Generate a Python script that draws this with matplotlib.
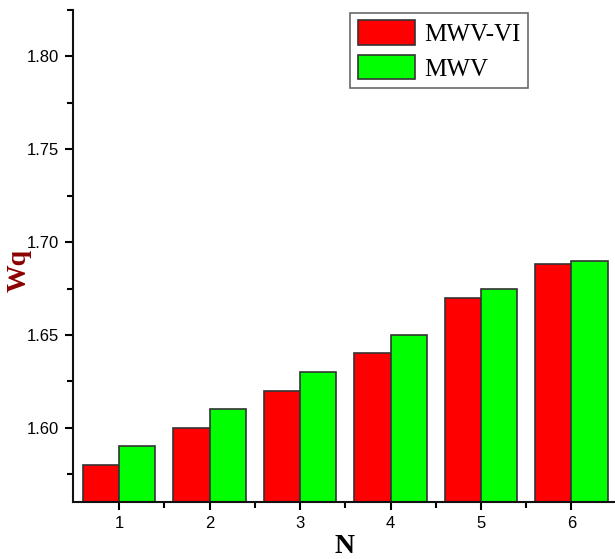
import numpy as np
import matplotlib.pyplot as plt
from matplotlib.ticker import MultipleLocator

n_values = [1, 2, 3, 4, 5, 6]
mwv_vi = [1.580, 1.600, 1.620, 1.640, 1.670, 1.688]
mwv = [1.590, 1.610, 1.630, 1.650, 1.675, 1.690]

fig = plt.figure(figsize=(6.15, 5.59), dpi=100)
ax = fig.add_axes([0.1187, 0.102, 0.884, 0.880])

x = np.array(n_values)
w = 0.4
ax.bar(x - w / 2, mwv_vi, width=w, color='#ff0000', edgecolor='#333333', linewidth=1.2, label='MWV-VI')
ax.bar(x + w / 2, mwv, width=w, color='#00ff00', edgecolor='#333333', linewidth=1.2, label='MWV')

ax.set_xlim(0.49, 6.5)
ax.set_ylim(1.56, 1.825)
ax.set_xticks(n_values)
ax.xaxis.set_minor_locator(plt.FixedLocator([1.5, 2.5, 3.5, 4.5, 5.5]))
ax.yaxis.set_major_locator(MultipleLocator(0.05))
ax.yaxis.set_minor_locator(MultipleLocator(0.025))
ax.yaxis.set_major_formatter(plt.FormatStrFormatter('%.2f'))

for s in ['top', 'right']:
    ax.spines[s].set_visible(False)
for s in ['left', 'bottom']:
    ax.spines[s].set_linewidth(1.5)
    ax.spines[s].set_color('#111111')

ax.tick_params(which='major', direction='out', length=6, width=1.5, labelsize=12, pad=4)
ax.tick_params(which='minor', direction='out', length=4, width=1.5)
for lab in ax.get_xticklabels() + ax.get_yticklabels():
    lab.set_family('Liberation Sans')

ax.set_ylabel('Wq', family='Liberation Serif', fontweight='bold', fontsize=20, color='#8b0000')
ax.yaxis.set_label_coords(-0.076, 0.47)
ax.set_xlabel('N', family='Liberation Serif', fontweight='bold', fontsize=20)
ax.xaxis.set_label_coords(0.5, -0.066)

leg = ax.legend(loc='upper left', bbox_to_anchor=(0.51, 0.995), prop={'family': 'Liberation Serif', 'size': 18},
                frameon=True, fancybox=False, edgecolor='#444444', handlelength=2.3, handleheight=1.15,
                borderpad=0.3, labelspacing=0.35, handletextpad=0.35, borderaxespad=0)
leg.get_frame().set_linewidth(1.2)

fig.savefig('out.png', dpi=100)
